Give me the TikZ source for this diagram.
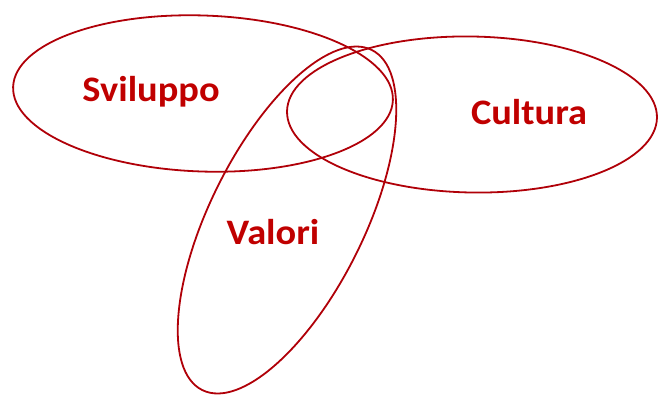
\documentclass[tikz,border=0pt]{standalone}
\usepackage{fontspec}
\setmainfont{Carlito}
\definecolor{vred}{HTML}{C00000}
\definecolor{lred}{HTML}{B00008}
\begin{document}
\begin{tikzpicture}[x=1bp,y=-1bp,
  ring/.style={draw=lred, line width=1.8bp},
  lbl/.style={text=vred, font=\fontsize{36}{42}\selectfont\bfseries, anchor=base, inner sep=0pt}]
\useasboundingbox (0,0) rectangle (658,395);
% ellipses
\draw[ring, rotate around={-2:(203,93.5)}] (203,93.5) ellipse [x radius=190, y radius=78];
\draw[ring, rotate around={-1:(472,114.5)}] (472,114.5) ellipse [x radius=185, y radius=78];
\draw[ring, rotate around={63.5:(287,220)}] (287,220) ellipse [x radius=190, y radius=77];
% labels
\node[lbl] (svil) at (151,101.5) {\scalebox{1.07}[1]{Sviluppo}};
\node[lbl] (cult) at (529,124) {\scalebox{1.07}[1]{Cultura}};
\node[lbl] (val) at (273,244.3) {\scalebox{1.07}[1]{Valori}};
\end{tikzpicture}
\end{document}
